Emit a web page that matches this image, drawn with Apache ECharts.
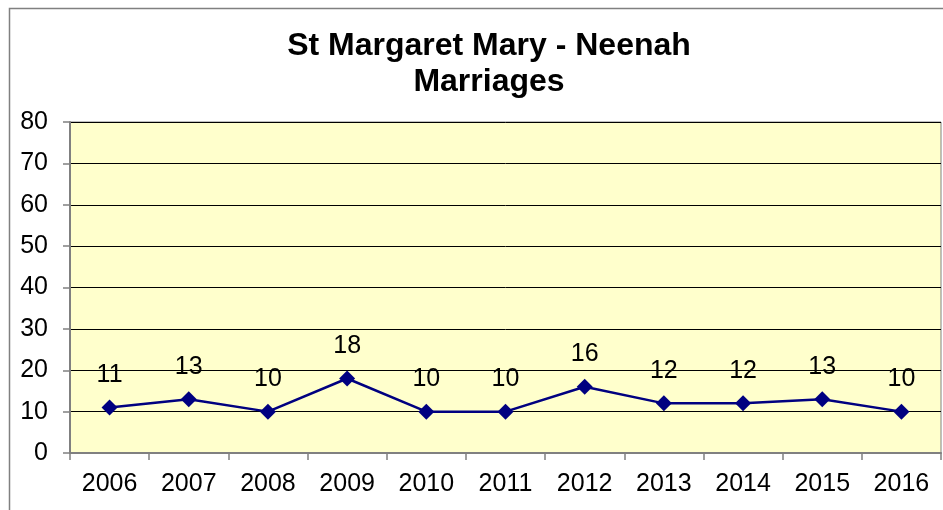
<!DOCTYPE html>
<html>
<head>
<meta charset="utf-8">
<script src="https://cdn.jsdelivr.net/npm/echarts@6/dist/echarts.min.js"></script>
<style>
  html, body { margin: 0; padding: 0; background: #fff; }
  #chart { width: 943px; height: 510px; }
</style>
</head>
<body>
<div id="chart"></div>
<script>
const years = ['2006', '2007', '2008', '2009', '2010', '2011', '2012', '2013', '2014', '2015', '2016'];
const marriages = [11, 13, 10, 18, 10, 10, 16, 12, 12, 13, 10];
const yTicks = { min: 0, max: 80, interval: 10 };

const font = 'Arial, "Liberation Sans", sans-serif';
const chart = echarts.init(document.getElementById('chart'));

chart.setOption({
  backgroundColor: '#ffffff',
  animation: false,
  graphic: [
    {
      type: 'rect',
      shape: { x: 9.5, y: 8.5, width: 1000, height: 600 },
      style: { fill: 'none', stroke: '#808080', lineWidth: 1.5 },
      z: 0,
    },
  ],
  title: {
    text: 'St Margaret Mary - Neenah\nMarriages',
    left: 484,
    top: 23,
    textAlign: 'center',
    textStyle: {
      fontFamily: font,
      fontSize: 32,
      fontWeight: 'bold',
      color: '#000',
      lineHeight: 36,
    },
  },
  grid: {
    left: 70,
    right: 2,
    top: 122,
    bottom: 57,
    show: true,
    backgroundColor: '#FFFFCC',
    borderColor: '#808080',
    borderWidth: 1,
  },
  xAxis: {
    type: 'category',
    data: years,
    boundaryGap: true,
    axisLine: { lineStyle: { color: '#808080', width: 2 } },
    axisTick: { show: true, length: 7, interval: 0, lineStyle: { color: '#808080', width: 1.5 } },
    axisLabel: { margin: 19, fontFamily: font, fontSize: 25, color: '#000', interval: 0 },
  },
  yAxis: {
    type: 'value',
    min: yTicks.min,
    max: yTicks.max,
    interval: yTicks.interval,
    axisLine: { show: true, lineStyle: { color: '#808080', width: 2 } },
    axisTick: { show: true, length: 7, lineStyle: { color: '#808080', width: 1.5 } },
    axisLabel: { margin: 22, fontFamily: font, fontSize: 25, color: '#000' },
    splitLine: { lineStyle: { color: '#000', width: 1 } },
  },
  series: [
    {
      name: 'Marriages',
      type: 'line',
      data: marriages,
      symbol: 'diamond',
      symbolSize: 16,
      lineStyle: { color: '#000080', width: 2.5 },
      itemStyle: { color: '#000080' },
      label: {
        show: true,
        position: 'top',
        distance: 12,
        fontFamily: font,
        fontSize: 25,
        color: '#000',
      },
    },
  ],
});
</script>
</body>
</html>
